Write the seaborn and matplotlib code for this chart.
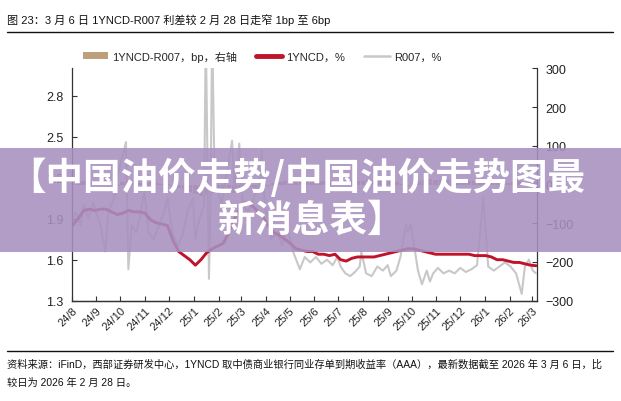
import matplotlib
matplotlib.use("Agg")
import matplotlib.pyplot as plt
from matplotlib.patches import Patch, Rectangle
from matplotlib.lines import Line2D
import seaborn as sns
import pandas as pd

# ---- data ----
ncd_values = [1.85, 1.90, 1.96, 1.97, 1.96, 1.97, 1.97, 1.95, 1.93, 1.94,
              1.96, 1.95, 1.95, 1.94, 1.89, 1.87, 1.86, 1.85, 1.74, 1.66,
              1.63, 1.60, 1.56, 1.60, 1.65, 1.68, 1.70, 1.72, 1.80, 1.90,
              1.98, 2.02, 2.00, 1.96, 1.92, 1.85, 1.80, 1.78, 1.75, 1.72,
              1.68, 1.67, 1.66, 1.66, 1.64, 1.64, 1.63, 1.64, 1.60, 1.59,
              1.61, 1.62, 1.62, 1.62, 1.62, 1.63, 1.64, 1.65, 1.66, 1.67,
              1.68, 1.68, 1.67, 1.66, 1.65, 1.64, 1.64, 1.64, 1.64, 1.64,
              1.64, 1.64, 1.63, 1.63, 1.63, 1.62, 1.60, 1.60, 1.59, 1.58,
              1.58, 1.57, 1.56, 1.556]

spread_values = [2, 4, 8, 6, 5, 9, 12, 3, -4, 6,
                 8, 7, 5, 4, 6, 3, 2, 1, -3, -8,
                 -12, -20, -25, -30, -28, -22, -18, -15, -20, -22,
                 -18, -10, -6, -8, -12, -5, 4, 6, 8, 10,
                 12, 10, 8, 7, 6, 8, 9, 7, 10, 12,
                 11, 10, 9, 12, 10, 8, 11, 9, 6, 2,
                 -4, 5, 9, 12, 14, 12, 13, 11, 12, 10,
                 11, 10, 9, 6, 8, 9, 7, 6, 5, 6,
                 8, 7, 7, 6]

r007_dates = ["2024-08-01", "2024-08-06", "2024-08-12", "2024-08-16", "2024-08-22",
              "2024-08-28", "2024-09-02", "2024-09-06", "2024-09-12", "2024-09-16",
              "2024-09-23", "2024-09-27", "2024-10-08", "2024-10-11", "2024-10-15",
              "2024-10-21", "2024-10-25", "2024-10-31", "2024-11-05", "2024-11-12",
              "2024-11-18", "2024-11-25", "2024-11-29", "2024-12-05", "2024-12-12",
              "2024-12-18", "2024-12-24", "2024-12-31", "2025-01-03", "2025-01-08",
              "2025-01-14", "2025-01-16", "2025-01-20", "2025-01-22", "2025-01-24",
              "2025-01-27", "2025-02-05", "2025-02-10", "2025-02-18", "2025-02-21",
              "2025-02-27", "2025-03-03", "2025-03-10", "2025-03-17", "2025-03-24",
              "2025-03-27", "2025-03-31", "2025-04-08", "2025-04-15", "2025-04-22",
              "2025-04-28", "2025-05-06", "2025-05-14", "2025-05-20", "2025-05-27",
              "2025-06-03", "2025-06-10", "2025-06-17", "2025-06-24", "2025-06-30",
              "2025-07-04", "2025-07-10", "2025-07-16", "2025-07-22", "2025-07-28",
              "2025-07-30", "2025-08-05", "2025-08-12", "2025-08-19", "2025-08-26",
              "2025-09-01", "2025-09-05", "2025-09-12", "2025-09-17", "2025-09-24",
              "2025-09-26", "2025-09-30", "2025-10-09", "2025-10-14", "2025-10-20",
              "2025-10-24", "2025-10-28", "2025-11-03", "2025-11-10", "2025-11-17",
              "2025-11-24", "2025-12-01", "2025-12-08", "2025-12-15", "2025-12-22",
              "2025-12-30", "2026-01-05", "2026-01-12", "2026-01-19", "2026-01-26",
              "2026-02-02", "2026-02-09", "2026-02-16", "2026-02-20", "2026-02-25",
              "2026-03-02", "2026-03-06"]
r007_values = [1.88, 1.95, 1.85, 2.00, 1.90,
               2.02, 1.92, 1.85, 1.66, 1.95,
               2.05, 2.20, 2.46, 1.53, 1.85,
               1.80, 1.90, 2.10, 1.80, 1.75,
               1.85, 1.95, 2.05, 1.80, 1.70,
               1.78, 1.95, 2.05, 1.75, 1.90,
               2.00, 3.30, 1.46, 2.00, 3.30,
               2.20, 2.00, 2.20, 2.47, 2.10,
               2.45, 2.00, 1.95, 2.05, 2.15,
               2.40, 2.00, 1.75, 1.80, 1.70,
               1.85, 1.65, 1.53, 1.62, 1.58,
               1.62, 1.57, 1.60, 1.56, 1.62,
               1.55, 1.50, 1.48, 1.51, 1.55,
               1.66, 1.50, 1.48, 1.55, 1.52,
               1.56, 1.48, 1.52, 1.62, 1.86,
               1.80, 1.86, 1.52, 1.42, 1.52,
               1.44, 1.50, 1.54, 1.50, 1.52,
               1.50, 1.54, 1.51, 1.53, 1.56,
               2.06, 1.55, 1.52, 1.55, 1.58,
               1.55, 1.50, 1.35, 1.55, 1.60,
               1.52, 1.50]

month_labels = ["24/8", "24/9", "24/10", "24/11", "24/12", "25/1", "25/2", "25/3",
                "25/4", "25/5", "25/6", "25/7", "25/8", "25/9", "25/10", "25/11",
                "25/12", "26/1", "26/2", "26/3"]

week_dates = pd.date_range("2024-08-02", periods=len(ncd_values), freq="W-FRI")
month_ticks = pd.date_range("2024-08-01", periods=len(month_labels), freq="MS")

TAN = "#BE9F7C"
RED = "#C0142C"
GREY = "#C8C8C8"
INK = "#333333"

sns.set_theme(style="ticks")
plt.rcParams["font.family"] = ["Liberation Sans", "Noto Sans CJK SC"]

fig = plt.figure(figsize=(6.21, 4.02), dpi=100)
ax = fig.add_axes([0.1155, 0.2495, 0.749, 0.578])
ax2 = ax.twinx()

# spread bars on the right axis
ax2.bar(week_dates, spread_values, width=6, color=TAN, linewidth=0)
ax2.set_ylim(-300, 300)
ax2.set_yticks(range(-300, 301, 100))

sns.lineplot(x=pd.to_datetime(r007_dates), y=r007_values, ax=ax, color=GREY, linewidth=1.5)
sns.lineplot(x=week_dates, y=ncd_values, ax=ax, color=RED, linewidth=2.1)
ax.set_zorder(ax2.get_zorder() + 1)
ax.patch.set_visible(False)

ax.set_ylim(1.3, 3.0)
ax.set_yticks([1.3, 1.6, 1.9, 2.2, 2.5, 2.8])
ax.set_yticklabels(["1.3", "1.6", "1.9", "2.2", "2.5", "2.8"])
ax.set_xlim(pd.Timestamp("2024-08-01"), pd.Timestamp("2026-03-07"))
ax.set_xticks(month_ticks)
ax.set_xticklabels(month_labels, rotation=45, ha="right", va="top", rotation_mode="anchor")
ax.set_xlabel("")
ax.set_ylabel("")
ax2.set_ylabel("")

for a in (ax, ax2):
    a.spines["top"].set_visible(False)
    for s in a.spines.values():
        s.set_color(INK)
        s.set_linewidth(0.9)
    a.tick_params(direction="in", length=3.5, width=0.8, color=INK, labelcolor="#222222")
ax.spines["right"].set_visible(False)
ax2.spines["left"].set_visible(False)
ax.tick_params(axis="y", labelsize=9, pad=6)
ax2.tick_params(axis="y", labelsize=9, pad=6)
ax.tick_params(axis="x", labelsize=8, pad=3)

# legend
handles = [Patch(facecolor=TAN, edgecolor="none"),
           Line2D([], [], color=RED, linewidth=3.5),
           Line2D([], [], color=GREY, linewidth=1.8)]
labels = ["1YNCD-R007，bp，右轴", "1YNCD，%", "R007，%"]
fig.legend(handles, labels, loc="center", bbox_to_anchor=(0.422, 0.858), ncol=3,
           frameon=False, fontsize=8, handlelength=2.3, handleheight=0.6,
           columnspacing=1.7, handletextpad=0.4)

# header / footer
fig.text(0.0113, 0.950, "图 23：3 月 6 日 1YNCD-R007 利差较 2 月 28 日走窄 1bp 至 6bp",
         fontsize=8.0, ha="left", va="center", color="#111111")
fig.add_artist(Line2D([0.011, 0.987], [1 - 32.5 / 402] * 2, color="#111111", linewidth=1.0))
fig.add_artist(Line2D([0.011, 0.987], [1 - 352 / 402] * 2, color="#111111", linewidth=1.0))
fig.text(0.0113, 1 - 365 / 402,
         "资料来源：iFinD，西部证券研发中心，1YNCD 取中债商业银行同业存单到期收益率（AAA），最新数据截至 2026 年 3 月 6 日，比",
         fontsize=7.4, ha="left", va="center", color="#111111")
fig.text(0.0113, 1 - 383 / 402, "较日为 2026 年 2 月 28 日。",
         fontsize=7.4, ha="left", va="center", color="#111111")

# overlay banner
fig.add_artist(Rectangle((0, 1 - 253 / 402), 1, 104 / 402, transform=fig.transFigure,
                         facecolor="#A890C0", alpha=0.88, edgecolor="none", zorder=10))
fig.text(0.478, 1 - 178 / 402, "【中国油价走势/中国油价走势图最", fontsize=27,
         fontweight="bold", color="white", ha="center", va="center", zorder=11,
         family=["Noto Sans CJK SC"])
fig.text(0.5, 1 - 220 / 402, "新消息表】", fontsize=27,
         fontweight="bold", color="white", ha="center", va="center", zorder=11,
         family=["Noto Sans CJK SC"])

fig.savefig("out.png", dpi=100)
